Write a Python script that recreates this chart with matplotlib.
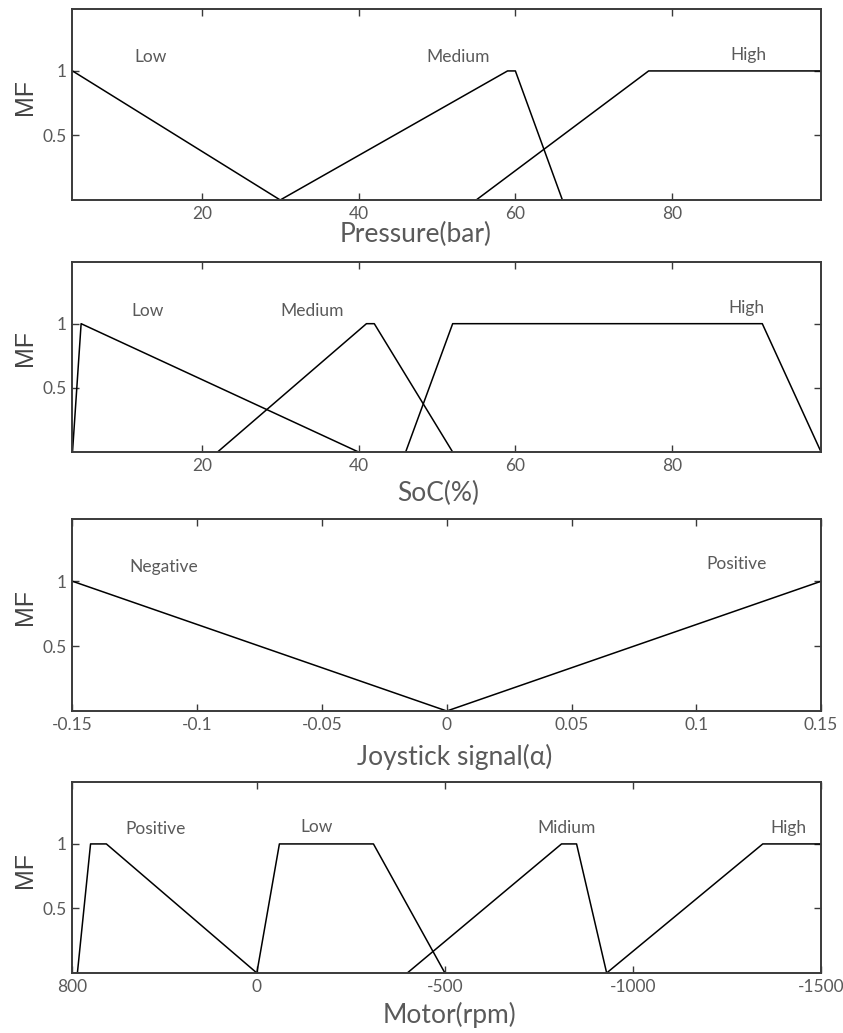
import matplotlib
matplotlib.use("Agg")
import matplotlib.pyplot as plt

# membership functions: (x breakpoints, y values) for each fuzzy set
pressure_low_x, pressure_low_y = [3.5, 30], [1, 0]
pressure_med_x, pressure_med_y = [30, 59, 60, 66], [0, 1, 1, 0]
pressure_high_x, pressure_high_y = [55, 77, 99], [0, 1, 1]

soc_low_x, soc_low_y = [3.5, 4.6, 40], [0, 1, 0]
soc_med_x, soc_med_y = [22, 41, 42, 52], [0, 1, 1, 0]
soc_high_x, soc_high_y = [46, 52, 91.5, 99], [0, 1, 1, 0]

joy_neg_x, joy_neg_y = [-0.15, 0], [1, 0]
joy_pos_x, joy_pos_y = [0, 0.15], [0, 1]

motor_pos_x, motor_pos_y = [477, 442, 400, 0], [0, 1, 1, 0]
motor_low_x, motor_low_y = [0, -60, -310, -500], [0, 1, 1, 0]
motor_mid_x, motor_mid_y = [-400, -810, -850, -930], [0, 1, 1, 0]
motor_high_x, motor_high_y = [-930, -1345, -1500], [0, 1, 1]

pressure_ticks = [20, 40, 60, 80]
soc_ticks = [20, 40, 60, 80]
joy_ticks = [-0.15, -0.1, -0.05, 0, 0.05, 0.1, 0.15]
joy_ticklabels = ['-0.15', '-0.1', '-0.05', '0', '0.05', '0.1', '0.15']
motor_ticks = [490, 0, -500, -1000, -1500]
motor_ticklabels = ['800', '0', '-500', '-1000', '-1500']

TXT = '#5a5a5a'
FRAME = '#3a3a3a'
FONT = ['Lato', 'DejaVu Sans']

fig = plt.figure(figsize=(8.43, 10.33), dpi=100)

panels = [
    [0.086, 0.8064, 0.888, 0.1849],
    [0.086, 0.5624, 0.888, 0.1839],
    [0.086, 0.3117, 0.888, 0.1859],
    [0.086, 0.0581, 0.888, 0.1849],
]


def style_axes(ax, xlabel, label_x, label_y, mf_y):
    ax.set_ylim(0, 1.48)
    ax.set_yticks([0.5, 1])
    ax.set_yticklabels(['0.5', '1'])
    for s in ax.spines.values():
        s.set_color(FRAME)
        s.set_linewidth(1.4)
    ax.tick_params(direction='in', top=True, right=True, length=5,
                   width=1, color=FRAME, labelcolor=TXT, labelsize=12.5, pad=4)
    for lab in ax.get_xticklabels() + ax.get_yticklabels():
        lab.set_family(FONT)
    ax.set_xlabel(xlabel, fontsize=19, color=TXT, family=FONT)
    ax.xaxis.set_label_coords(label_x, label_y)
    ax.xaxis.label.set_verticalalignment('center')
    ax.set_ylabel('MF', fontsize=18, color='#444444', family='Liberation Sans')
    ax.yaxis.set_label_coords(-0.063, mf_y)
    ax.yaxis.label.set_verticalalignment('center')


def draw(ax, xs, ys):
    ax.plot(xs, ys, color='black', linewidth=1.1)


def tag(ax, x, y, text):
    ax.text(x, y, text, ha='center', va='center', fontsize=12.5,
            color=TXT, family=FONT)


# Pressure
ax1 = fig.add_axes(panels[0])
draw(ax1, pressure_low_x, pressure_low_y)
draw(ax1, pressure_med_x, pressure_med_y)
draw(ax1, pressure_high_x, pressure_high_y)
ax1.set_xlim(3.5, 99)
ax1.set_xticks(pressure_ticks)
tag(ax1, 13.4, 1.11, 'Low')
tag(ax1, 52.7, 1.11, 'Medium')
tag(ax1, 89.7, 1.12, 'High')
style_axes(ax1, 'Pressure(bar)', 0.458, -0.18, 0.54)

# SoC
ax2 = fig.add_axes(panels[1])
draw(ax2, soc_low_x, soc_low_y)
draw(ax2, soc_med_x, soc_med_y)
draw(ax2, soc_high_x, soc_high_y)
ax2.set_xlim(3.5, 99)
ax2.set_xticks(soc_ticks)
tag(ax2, 13.1, 1.10, 'Low')
tag(ax2, 34.1, 1.10, 'Medium')
tag(ax2, 89.5, 1.12, 'High')
style_axes(ax2, 'SoC(%)', 0.488, -0.22, 0.55)

# Joystick
ax3 = fig.add_axes(panels[2])
draw(ax3, joy_neg_x, joy_neg_y)
draw(ax3, joy_pos_x, joy_pos_y)
ax3.set_xlim(-0.15, 0.15)
ax3.set_xticks(joy_ticks)
ax3.set_xticklabels(joy_ticklabels)
tag(ax3, -0.1134, 1.11, 'Negative')
tag(ax3, 0.116, 1.13, 'Positive')
style_axes(ax3, 'Joystick signal(\u03b1)', 0.51, -0.24, 0.54)

# Motor speed
ax4 = fig.add_axes(panels[3])
draw(ax4, motor_pos_x, motor_pos_y)
draw(ax4, motor_low_x, motor_low_y)
draw(ax4, motor_mid_x, motor_mid_y)
draw(ax4, motor_high_x, motor_high_y)
ax4.set_xlim(490, -1500)
ax4.set_xticks(motor_ticks)
ax4.set_xticklabels(motor_ticklabels)
tag(ax4, 268, 1.115, 'Positive')
tag(ax4, -158, 1.13, 'Low')
tag(ax4, -824, 1.12, 'Midium')
tag(ax4, -1412, 1.12, 'High')
style_axes(ax4, 'Motor(rpm)', 0.504, -0.22, 0.54)

fig.savefig('out.png', dpi=100, facecolor='white')
